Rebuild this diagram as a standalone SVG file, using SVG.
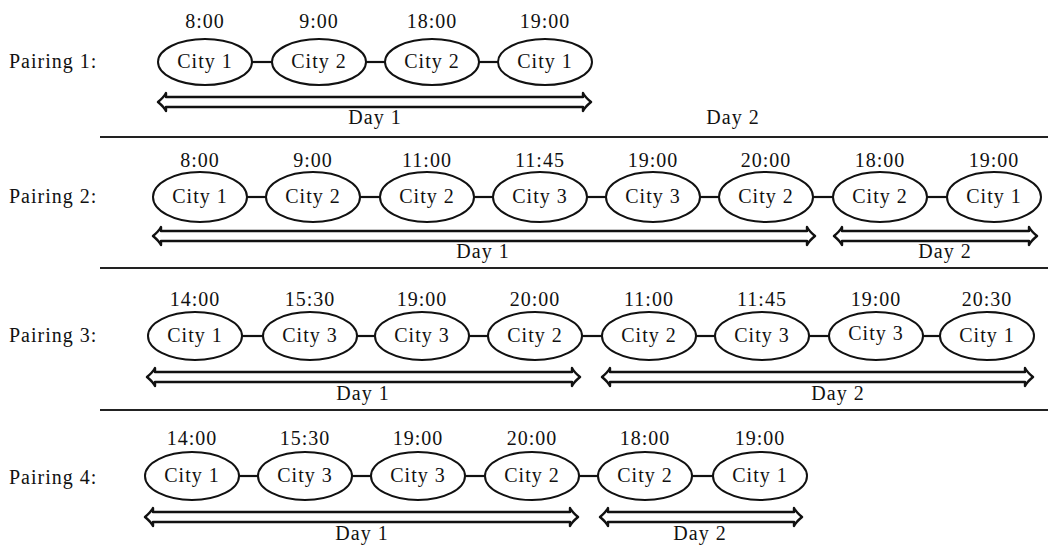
<svg xmlns="http://www.w3.org/2000/svg" width="1048" height="552" viewBox="0 0 1048 552">
<style>
text{font-family:"Liberation Serif","Times New Roman",serif;font-size:20px;fill:#111;letter-spacing:1px}
.c{text-anchor:middle}
ellipse{fill:#fff;stroke:#111;stroke-width:2}
.ln{stroke:#111;stroke-width:2.2;fill:none}
.arr{fill:#fff;stroke:#111;stroke-width:2.4;stroke-linejoin:round}
.sep{stroke:#222;stroke-width:2}
</style>
<rect width="1048" height="552" fill="#fff"/>
<g id="separators">
<line class="sep" x1="100" y1="137" x2="1048" y2="137" stroke-width="3"/>
<line class="sep" x1="100" y1="268" x2="1048" y2="268"/>
<line class="sep" x1="100" y1="410" x2="1048" y2="410"/>
</g>
<g id="labels">
<text x="9" y="68">Pairing 1:</text>
<text x="9" y="203">Pairing 2:</text>
<text x="9" y="342">Pairing 3:</text>
<text x="9" y="484">Pairing 4:</text>
</g>
<g id="connectors">
<line class="ln" x1="252" y1="62" x2="272" y2="62"/>
<line class="ln" x1="366" y1="62" x2="385" y2="62"/>
<line class="ln" x1="479" y1="62" x2="498" y2="62"/>
<line class="ln" x1="247" y1="197" x2="266" y2="197"/>
<line class="ln" x1="360" y1="197" x2="380" y2="197"/>
<line class="ln" x1="474" y1="197" x2="493" y2="197"/>
<line class="ln" x1="587" y1="197" x2="606" y2="197"/>
<line class="ln" x1="700" y1="197" x2="719" y2="197"/>
<line class="ln" x1="813" y1="197" x2="833" y2="197"/>
<line class="ln" x1="927" y1="197" x2="947" y2="197"/>
<line class="ln" x1="242" y1="336" x2="263" y2="336"/>
<line class="ln" x1="357" y1="336" x2="375" y2="336"/>
<line class="ln" x1="469" y1="336" x2="488" y2="336"/>
<line class="ln" x1="582" y1="336" x2="602" y2="336"/>
<line class="ln" x1="696" y1="336" x2="715" y2="336"/>
<line class="ln" x1="809" y1="336" x2="829" y2="336"/>
<line class="ln" x1="923" y1="336" x2="940" y2="336"/>
<line class="ln" x1="239" y1="476" x2="258" y2="476"/>
<line class="ln" x1="352" y1="476" x2="371" y2="476"/>
<line class="ln" x1="465" y1="476" x2="485" y2="476"/>
<line class="ln" x1="579" y1="476" x2="598" y2="476"/>
<line class="ln" x1="692" y1="476" x2="713" y2="476"/>
</g>
<g id="arrows">
<path class="arr" d="M158 102 Q164 97 166 93 L166 97 L583 97 L583 93 Q585 97 591 102 Q585 107 583 111 L583 107 L166 107 L166 111 Q164 107 158 102 Z"/>
<path class="arr" d="M153 236 Q159 231 161 227 L161 231 L807 231 L807 227 Q809 231 815 236 Q809 241 807 245 L807 241 L161 241 L161 245 Q159 241 153 236 Z"/>
<path class="arr" d="M834 236 Q840 231 842 227 L842 231 L1029 231 L1029 227 Q1031 231 1037 236 Q1031 241 1029 245 L1029 241 L842 241 L842 245 Q840 241 834 236 Z"/>
<path class="arr" d="M147 377 Q153 372 155 368 L155 372 L572 372 L572 368 Q574 372 580 377 Q574 382 572 386 L572 382 L155 382 L155 386 Q153 382 147 377 Z"/>
<path class="arr" d="M602 377 Q608 372 610 368 L610 372 L1025 372 L1025 368 Q1027 372 1033 377 Q1027 382 1025 386 L1025 382 L610 382 L610 386 Q608 382 602 377 Z"/>
<path class="arr" d="M145 517 Q151 512 153 508 L153 512 L570 512 L570 508 Q572 512 578 517 Q572 522 570 526 L570 522 L153 522 L153 526 Q151 522 145 517 Z"/>
<path class="arr" d="M600 517 Q606 512 608 508 L608 512 L794 512 L794 508 Q796 512 802 517 Q796 522 794 526 L794 522 L608 522 L608 526 Q606 522 600 517 Z"/>
</g>
<g id="days">
<text class="c" x="375" y="124">Day 1</text>
<text class="c" x="733" y="124">Day 2</text>
<text class="c" x="483" y="258">Day 1</text>
<text class="c" x="945" y="258">Day 2</text>
<text class="c" x="363" y="400">Day 1</text>
<text class="c" x="838" y="400">Day 2</text>
<text class="c" x="362" y="540">Day 1</text>
<text class="c" x="700" y="540">Day 2</text>
</g>
<g id="p1n1"><text class="c" x="205" y="28">8:00</text><ellipse cx="205" cy="62" rx="47" ry="23"/><text class="c" x="205" y="68">City 1</text></g>
<g id="p1n2"><text class="c" x="319" y="28">9:00</text><ellipse cx="319" cy="62" rx="47" ry="23"/><text class="c" x="319" y="68">City 2</text></g>
<g id="p1n3"><text class="c" x="432" y="28">18:00</text><ellipse cx="432" cy="62" rx="47" ry="23"/><text class="c" x="432" y="68">City 2</text></g>
<g id="p1n4"><text class="c" x="545" y="28">19:00</text><ellipse cx="545" cy="62" rx="47" ry="23"/><text class="c" x="545" y="68">City 1</text></g>

<g id="p2n1"><text class="c" x="200" y="167">8:00</text><ellipse cx="200" cy="197" rx="47" ry="25"/><text class="c" x="200" y="203">City 1</text></g>
<g id="p2n2"><text class="c" x="313" y="167">9:00</text><ellipse cx="313" cy="197" rx="47" ry="25"/><text class="c" x="313" y="203">City 2</text></g>
<g id="p2n3"><text class="c" x="427" y="167">11:00</text><ellipse cx="427" cy="197" rx="47" ry="25"/><text class="c" x="427" y="203">City 2</text></g>
<g id="p2n4"><text class="c" x="540" y="167">11:45</text><ellipse cx="540" cy="197" rx="47" ry="25"/><text class="c" x="540" y="203">City 3</text></g>
<g id="p2n5"><text class="c" x="653" y="167">19:00</text><ellipse cx="653" cy="197" rx="47" ry="25"/><text class="c" x="653" y="203">City 3</text></g>
<g id="p2n6"><text class="c" x="766" y="167">20:00</text><ellipse cx="766" cy="197" rx="47" ry="25"/><text class="c" x="766" y="203">City 2</text></g>
<g id="p2n7"><text class="c" x="880" y="167">18:00</text><ellipse cx="880" cy="197" rx="47" ry="25"/><text class="c" x="880" y="203">City 2</text></g>
<g id="p2n8"><text class="c" x="994" y="167">19:00</text><ellipse cx="994" cy="197" rx="47" ry="25"/><text class="c" x="994" y="203">City 1</text></g>

<g id="p3n1"><text class="c" x="195" y="306">14:00</text><ellipse cx="195" cy="336" rx="47" ry="24"/><text class="c" x="195" y="342">City 1</text></g>
<g id="p3n2"><text class="c" x="310" y="306">15:30</text><ellipse cx="310" cy="336" rx="47" ry="24"/><text class="c" x="310" y="342">City 3</text></g>
<g id="p3n3"><text class="c" x="422" y="306">19:00</text><ellipse cx="422" cy="336" rx="47" ry="24"/><text class="c" x="422" y="342">City 3</text></g>
<g id="p3n4"><text class="c" x="535" y="306">20:00</text><ellipse cx="535" cy="336" rx="47" ry="24"/><text class="c" x="535" y="342">City 2</text></g>
<g id="p3n5"><text class="c" x="649" y="306">11:00</text><ellipse cx="649" cy="336" rx="47" ry="24"/><text class="c" x="649" y="342">City 2</text></g>
<g id="p3n6"><text class="c" x="762" y="306">11:45</text><ellipse cx="762" cy="336" rx="47" ry="24"/><text class="c" x="762" y="342">City 3</text></g>
<g id="p3n7"><text class="c" x="876" y="306">19:00</text><ellipse cx="876" cy="336" rx="47" ry="24"/><text class="c" x="876" y="340">City 3</text></g>
<g id="p3n8"><text class="c" x="987" y="306">20:30</text><ellipse cx="987" cy="336" rx="47" ry="24"/><text class="c" x="987" y="342">City 1</text></g>

<g id="p4n1"><text class="c" x="192" y="445">14:00</text><ellipse cx="192" cy="476" rx="47" ry="24"/><text class="c" x="192" y="482">City 1</text></g>
<g id="p4n2"><text class="c" x="305" y="445">15:30</text><ellipse cx="305" cy="476" rx="47" ry="24"/><text class="c" x="305" y="482">City 3</text></g>
<g id="p4n3"><text class="c" x="418" y="445">19:00</text><ellipse cx="418" cy="476" rx="47" ry="24"/><text class="c" x="418" y="482">City 3</text></g>
<g id="p4n4"><text class="c" x="532" y="445">20:00</text><ellipse cx="532" cy="476" rx="47" ry="24"/><text class="c" x="532" y="482">City 2</text></g>
<g id="p4n5"><text class="c" x="645" y="445">18:00</text><ellipse cx="645" cy="476" rx="47" ry="24"/><text class="c" x="645" y="482">City 2</text></g>
<g id="p4n6"><text class="c" x="760" y="445">19:00</text><ellipse cx="760" cy="476" rx="47" ry="24"/><text class="c" x="760" y="482">City 1</text></g>
</svg>
